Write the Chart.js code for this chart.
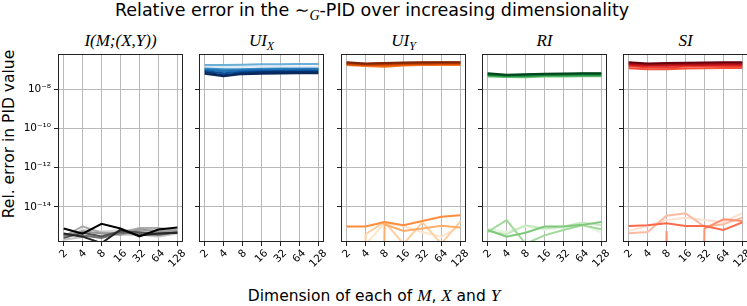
<!DOCTYPE html>
<html><head><meta charset="utf-8">
<script src="https://cdn.jsdelivr.net/npm/chart.js@4.4.1/dist/chart.umd.min.js"></script>
<style>
html,body{margin:0;padding:0;background:#fff;}
#fig{position:relative;width:747px;height:306px;overflow:hidden;font-family:"DejaVu Sans",sans-serif;color:#000;}
canvas{position:absolute;top:0;}
.t{position:absolute;white-space:nowrap;line-height:1;}
.m{font-family:"Liberation Serif","DejaVu Serif",serif;font-style:italic;}
sub{font-size:0.7em;vertical-align:-0.3em;line-height:0;}
.pt{position:absolute;top:32px;width:125px;text-align:center;font-size:17px;line-height:1;white-space:nowrap;}
</style></head><body><div id="fig">
<div class="t" style="left:372px;top:2px;font-size:17.5px;transform:translateX(-50%);">Relative error in the ∼<sub class="m" style="font-size:0.8em">G</sub>-PID over increasing dimensionality</div>
<div class="pt m" style="left:58px">I(M;(X,Y))</div>
<div class="pt m" style="left:199px">UI<sub>X</sub></div>
<div class="pt m" style="left:341px">UI<sub>Y</sub></div>
<div class="pt m" style="left:482px">RI</div>
<div class="pt m" style="left:623px">SI</div>
<div class="t" style="left:10px;top:134px;font-size:15.5px;transform:translate(-50%,-50%) rotate(-90deg);">Rel. error in PID value</div>
<div class="t" style="left:374px;top:296px;font-size:15.5px;transform:translate(-50%,-50%);">Dimension of each of <span class="m" style="font-size:1.1em">M</span>, <span class="m" style="font-size:1.1em">X</span> and <span class="m" style="font-size:1.1em">Y</span></div>
<canvas id="c0"></canvas><canvas id="c1"></canvas><canvas id="c2"></canvas><canvas id="c3"></canvas><canvas id="c4"></canvas>
</div>
<script>
// ---- data ----
const dims = [2, 4, 8, 16, 32, 64, 128];
const dimLabels = ['2', '4', '8', '16', '32', '64', '128'];
const yTickValues = [1e-14, 1e-12, 1e-10, 1e-8];
const yTickLabels = ['10⁻¹⁴', '10⁻¹²', '10⁻¹⁰', '10⁻⁸'];
const ZERO = 1e-100; // error exactly zero: falls below the axis

const miLines = [
  [2.3e-16, 6.9e-16, 5.6e-16, 6.3e-16, 6.9e-16, 7.4e-16, 5.9e-16],
  [2.1e-16, 2.9e-16, 5.0e-16, 3.7e-16, 3.8e-16, 3.1e-16, 4.3e-16],
  [3.1e-16, 1.02e-15, 4.7e-16, 4.7e-16, 8.3e-16, 8.3e-16, 6.3e-16],
  [3.4e-16, 5.6e-16, 4.3e-16, 3.8e-16, 6.9e-16, 5.6e-16, 5.6e-16],
  [3.8e-16, 3.4e-16, 2.6e-16, 4.7e-16, 4.3e-16, 3.7e-16, 5.0e-16],
  [2.6e-16, 4.7e-16, 3.1e-16, 5.6e-16, 5.0e-16, 4.3e-16, 4.7e-16],
  [4.3e-16, 3.0e-16, 1.4e-16, 6.9e-16, 3.4e-16, 4.3e-16, 4.7e-16],
  [7.8e-16, 4.3e-16, 1.35e-15, 7.8e-16, 3.1e-16, 6.9e-16, 8.7e-16]
];
const uixLines = [
  [1.38e-7, 1.38e-7, 1.41e-7, 1.45e-7, 1.45e-7, 1.48e-7, 1.48e-7],
  [1.78e-7, 1.78e-7, 1.82e-7, 1.9e-7, 1.9e-7, 1.95e-7, 1.95e-7],
  [1.15e-7, 1.05e-7, 1.07e-7, 1.12e-7, 1.15e-7, 1.17e-7, 1.17e-7],
  [1.07e-7, 9.3e-8, 1.0e-7, 1.05e-7, 1.07e-7, 1.1e-7, 1.1e-7],
  [1.0e-7, 8.3e-8, 9.1e-8, 9.8e-8, 1.0e-7, 1.02e-7, 1.02e-7],
  [8.7e-8, 6.6e-8, 7.9e-8, 8.5e-8, 8.7e-8, 8.9e-8, 8.9e-8],
  [7.6e-8, 5.2e-8, 6.9e-8, 7.4e-8, 7.6e-8, 7.8e-8, 7.8e-8],
  [6.3e-8, 4.7e-8, 6.0e-8, 6.3e-8, 6.5e-8, 6.6e-8, 6.6e-8]
];
const uiyLines = [
  [1.7e-16, 1.2e-16, 1.5e-15, 1.05e-15, 5.0e-16, 3.0e-16, 1.05e-15],
  [ZERO, 4.0e-16, 1.7e-15, 1.3e-16, 1.6e-15, 1.3e-16, 1.8e-15],
  [ZERO, ZERO, 1.3e-15, 5.9e-16, 7.8e-16, 1.07e-15, 8.7e-16],
  [9.8e-16, 9.8e-16, 1.7e-15, 1.15e-15, 1.9e-15, 3.1e-15, 3.7e-15],
  [1.74e-7, 1.58e-7, 1.45e-7, 1.66e-7, 1.74e-7, 1.78e-7, 1.78e-7],
  [1.9e-7, 1.74e-7, 1.66e-7, 1.82e-7, 1.9e-7, 1.95e-7, 1.95e-7],
  [2.0e-7, 1.82e-7, 1.82e-7, 1.95e-7, 2.0e-7, 2.04e-7, 2.04e-7],
  [2.14e-7, 1.9e-7, 2.0e-7, 2.09e-7, 2.14e-7, 2.19e-7, 2.19e-7],
  [2.29e-7, 2.0e-7, 2.14e-7, 2.24e-7, 2.29e-7, 2.34e-7, 2.34e-7],
  [2.4e-7, 2.09e-7, 2.24e-7, 2.34e-7, 2.4e-7, 2.45e-7, 2.45e-7]
];
const riLines = [
  [7.8e-16, 5.2e-16, 1.05e-15, 6.6e-16, 8.7e-16, 1.3e-15, 4.8e-16],
  [5.9e-16, 4.0e-16, 1.15e-15, 7.8e-16, 9.8e-16, 1.6e-15, 1.15e-15],
  [5.2e-16, 2.1e-15, 1.3e-16, 3.5e-16, 6.6e-16, 1.15e-15, 7.1e-16],
  [6.6e-16, 3.0e-16, 4.8e-16, 9.8e-16, 9.8e-16, 1.2e-15, 1.7e-15],
  [4.6e-8, 4.3e-8, 4.2e-8, 4.5e-8, 4.6e-8, 4.7e-8, 4.7e-8],
  [5.0e-8, 4.6e-8, 4.6e-8, 4.9e-8, 5.0e-8, 5.1e-8, 5.1e-8],
  [5.5e-8, 4.9e-8, 5.0e-8, 5.4e-8, 5.5e-8, 5.6e-8, 5.6e-8],
  [6.0e-8, 5.2e-8, 5.5e-8, 5.9e-8, 6.0e-8, 6.2e-8, 6.2e-8],
  [6.6e-8, 5.5e-8, 6.0e-8, 6.3e-8, 6.5e-8, 6.6e-8, 6.6e-8]
];
const siLines = [
  [5.9e-16, 1.05e-15, 2.1e-15, 2.8e-15, 2.1e-15, 1.7e-15, 4.7e-15],
  [4.5e-16, 5.2e-16, 3.5e-15, 4.7e-15, 9.8e-16, 1.3e-15, 2.8e-15],
  [ZERO, ZERO, 5.9e-16, ZERO, 7.8e-16, 2.3e-15, 1.9e-15],
  [1.05e-15, 1.15e-15, 1.45e-15, 1.05e-15, 1.05e-15, 6.6e-16, 1.6e-15],
  [1.2e-7, 1.07e-7, 1.05e-7, 1.15e-7, 1.2e-7, 1.23e-7, 1.23e-7],
  [1.51e-7, 1.35e-7, 1.32e-7, 1.45e-7, 1.51e-7, 1.55e-7, 1.55e-7],
  [1.82e-7, 1.62e-7, 1.62e-7, 1.74e-7, 1.78e-7, 1.82e-7, 1.82e-7],
  [2.09e-7, 1.86e-7, 1.9e-7, 2.0e-7, 2.04e-7, 2.09e-7, 2.09e-7],
  [2.4e-7, 2.09e-7, 2.19e-7, 2.29e-7, 2.34e-7, 2.4e-7, 2.4e-7]
];

// ---- styles ----
const miColors = ['#d9d9d9', '#c4c4c4', '#aaaaaa', '#969696', '#737373', '#525252', '#252525', '#000000'];
const uixColors = ['#deebf7', '#6baed6', '#4292c6', '#3182bd', '#2171b5', '#08519c', '#08306b', '#08285a'];
const uiyColors = ['#fee6ce', '#fdd0a2', '#fdae6b', '#fd8d3c', '#f57622', '#ea5f0e', '#d94801', '#bf3f02', '#a63603', '#7f2704'];
const riColors = ['#e5f5e0', '#c7e9c0', '#a1d99b', '#7fc97a', '#74c476', '#41ab5d', '#238b45', '#006d2c', '#00441b'];
const siColors = ['#fee0d2', '#fcbba1', '#fc9272', '#fb6a4a', '#f4503a', '#ef3b2c', '#cb181d', '#a50f15', '#67000d'];

const PW = 125, TOP = 54, BOTTOM = 242, H = 306;
const yMin = 1.6e-16, yMax = 6.4e-7;
const xMin = 2 / Math.pow(2, 0.3), xMax = 128 * Math.pow(2, 0.3);
const GRID = '#b9b9b9';

const framePlugin = {
  id: 'frame',
  afterDraw(chart) {
    const a = chart.chartArea, ctx = chart.ctx;
    ctx.save();
    ctx.strokeStyle = '#222'; ctx.lineWidth = 1;
    const l = Math.round(a.left) + 0.5, t = Math.round(a.top) + 0.5;
    const r = Math.round(a.right) - 0.5, b = Math.round(a.bottom) - 0.5;
    ctx.strokeRect(l, t, r - l, b - t);
    // x tick labels, rotated 45 degrees and centred under the tick
    const xs = chart.scales.x;
    ctx.font = '10.5px "DejaVu Sans"'; ctx.fillStyle = '#000';
    ctx.textAlign = 'center'; ctx.textBaseline = 'middle';
    xs.ticks.forEach((tk, i) => {
      const x = xs.getPixelForValue(tk.value);
      const lab = dimLabels[i];
      const w = ctx.measureText(lab).width, h = 10;
      const half = (w + h) * Math.SQRT1_2 / 2;
      ctx.save();
      ctx.translate(x, a.bottom + 6 + half);
      ctx.rotate(-Math.PI / 4);
      ctx.fillText(lab, 0, 0);
      ctx.restore();
    });
    ctx.restore();
  }
};

function makePanel(id, plotLeft, yW, lines, colors, showY) {
  const cv = document.getElementById(id);
  const padR = 14;
  cv.width = yW + PW + padR; cv.height = H;
  cv.style.left = (plotLeft - yW) + 'px';
  const n = lines.length;
  const datasets = lines.map((vals, i) => ({
    data: dims.map((d, j) => ({ x: d, y: vals[j] })),
    borderColor: colors[i], borderWidth: 2, pointRadius: 0, pointHoverRadius: 0,
    tension: 0, fill: false, clip: 0, order: n - i
  }));
  new Chart(cv, {
    type: 'line',
    data: { datasets },
    options: {
      responsive: false, animation: false, devicePixelRatio: 1,
      layout: { padding: { top: TOP, left: 0, right: padR, bottom: 0 } },
      plugins: { legend: { display: false }, tooltip: { enabled: false } },
      events: [],
      scales: {
        x: {
          type: 'logarithmic', min: xMin, max: xMax, bounds: 'data',
          afterBuildTicks: s => { s.ticks = dims.map(v => ({ value: v })); },
          afterFit: s => { s.height = H - BOTTOM; },
          ticks: { display: false },
          grid: { color: GRID, lineWidth: 1, tickLength: 4, tickColor: '#222', drawTicks: true },
          border: { display: false }
        },
        y: {
          type: 'logarithmic', min: yMin, max: yMax, bounds: 'data',
          afterBuildTicks: s => { s.ticks = yTickValues.map(v => ({ value: v })); },
          afterFit: s => { s.width = yW; },
          ticks: {
            display: showY, autoSkip: false, padding: 3, color: '#000',
            font: { family: 'DejaVu Sans', size: 10.5 },
            callback: (v, i) => yTickLabels[i]
          },
          grid: { color: GRID, lineWidth: 1, tickLength: 4, tickColor: '#222', drawTicks: true },
          border: { display: false }
        }
      }
    },
    plugins: [framePlugin]
  });
}

makePanel('c0', 58, 58, miLines, miColors, true);
makePanel('c1', 199, 10, uixLines, uixColors, false);
makePanel('c2', 341, 10, uiyLines, uiyColors, false);
makePanel('c3', 482, 10, riLines, riColors, false);
makePanel('c4', 623, 10, siLines, siColors, false);
</script>
</body></html>
